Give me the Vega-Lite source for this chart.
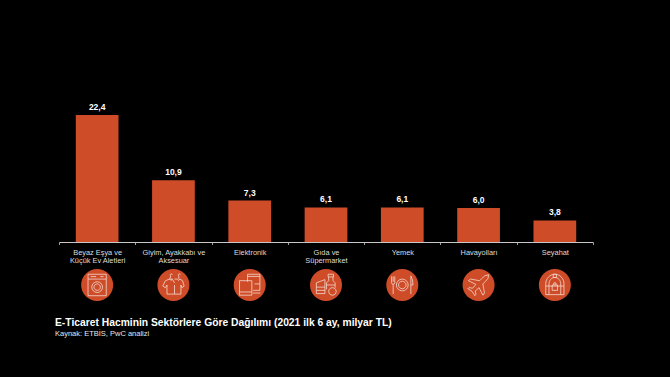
{
  "$schema": "https://vega.github.io/schema/vega-lite/v6.json",
  "width": 534,
  "height": 142,
  "autosize": {"type": "none"},
  "padding": {"left": 59, "top": 100, "right": 77, "bottom": 135},
  "background": "#000000",
  "config": {
    "view": {"stroke": null},
    "font": "Liberation Sans",
    "locale": {"number": {"decimal": ",", "thousands": ".", "grouping": [3], "currency": ["", " TL"]}}
  },
  "title": {
    "text": "E-Ticaret Hacminin Sektörlere Göre Dağılımı (2021 ilk 6 ay, milyar TL)",
    "subtitle": "Kaynak: ETBİS, PwC analizi",
    "orient": "bottom",
    "anchor": "start",
    "frame": "group",
    "offset": 17,
    "dx": -4,
    "font": "Liberation Sans",
    "fontSize": 10.3,
    "fontWeight": "bold",
    "color": "#ffffff",
    "subtitleFont": "Liberation Sans",
    "subtitleFontSize": 7.5,
    "subtitleColor": "#e6e6e6",
    "subtitlePadding": 1.5
  },
  "data": {
    "values": [
      {"sector": "Beyaz Eşya ve\nKüçük Ev Aletleri", "value": 22.4},
      {"sector": "Giyim, Ayakkabı ve\nAksesuar", "value": 10.9},
      {"sector": "Elektronik", "value": 7.3},
      {"sector": "Gıda ve\nSüpermarket", "value": 6.1},
      {"sector": "Yemek", "value": 6.1},
      {"sector": "Havayolları", "value": 6.0},
      {"sector": "Seyahat", "value": 3.8}
    ]
  },
  "encoding": {
    "x": {
      "field": "sector",
      "type": "nominal",
      "sort": null,
      "scale": {"paddingInner": 0, "paddingOuter": 0},
      "axis": {
        "title": null,
        "labelAngle": 0,
        "labelExpr": "split(datum.label, '\\n')",
        "labelFont": "Liberation Sans",
        "labelFontSize": 7.4,
        "labelLineHeight": 8.4,
        "labelColor": "#dddddd",
        "labelPadding": 4,
        "labelLimit": 120,
        "labelBaseline": "top",
        "tickBand": "extent",
        "tickColor": "#c8c8c8",
        "tickSize": 2.5,
        "tickWidth": 0.8,
        "domainColor": "#c8c8c8",
        "domainWidth": 1
      }
    }
  },
  "layer": [
    {
      "mark": {"type": "bar", "width": {"band": 0.56}, "color": "#cf4c29"},
      "encoding": {
        "y": {
          "field": "value",
          "type": "quantitative",
          "scale": {"domain": [0, 25.04], "nice": false},
          "axis": null
        }
      }
    },
    {
      "mark": {"type": "text", "baseline": "bottom", "dy": -3, "fontSize": 8.5, "fontWeight": "bold", "color": "#ffffff"},
      "encoding": {
        "y": {"field": "value", "type": "quantitative"},
        "text": {"field": "value", "type": "quantitative", "format": ".1f"}
      }
    },
    {
      "mark": {"type": "point", "shape": "circle", "filled": true, "size": 1024, "color": "#cf4c29", "opacity": 1},
      "encoding": {"y": {"datum": -7.58}}
    },
    {
      "mark": {"type": "point", "filled": false, "size": 460, "color": "#f4d9cf", "strokeWidth": 0.8, "opacity": 1},
      "encoding": {
        "y": {"datum": -7.58},
        "shape": {
          "field": "sector",
          "type": "nominal",
          "legend": null,
          "sort": null,
          "scale": {
            "domain": [
              "Beyaz Eşya ve\nKüçük Ev Aletleri",
              "Giyim, Ayakkabı ve\nAksesuar",
              "Elektronik",
              "Gıda ve\nSüpermarket",
              "Yemek",
              "Havayolları",
              "Seyahat"
            ],
            "range": [
              "M-0.85,-1 H0.85 V1 H-0.85 Z M-0.85,-0.55 H0.85 M-0.6,-0.78 H-0.1 M0.3,-0.78 H0.6 M0.5,0.2 A0.5,0.5 0 1 1 -0.5,0.2 A0.5,0.5 0 1 1 0.5,0.2 Z M0.3,0.2 A0.3,0.3 0 1 1 -0.3,0.2 A0.3,0.3 0 1 1 0.3,0.2 Z",
              "M-0.35,-0.55 L-0.75,-0.4 L-1,0.1 L-0.75,0.25 L-0.6,0 V0.85 H0.1 V0 M0.1,-0.2 L-0.1,-0.55 H-0.35 Q-0.25,-0.3 -0.1,-0.55 M-0.35,-0.55 L-0.25,-0.85 A0.1,0.1 0 1 1 -0.1,-0.95 M0.1,-0.55 L0.35,-0.55 Q0.5,-0.3 0.6,-0.55 L0.85,-0.4 L1,0.1 L0.8,0.25 L0.7,0 V0.85 H0.1 M0.5,-0.55 L0.5,-0.85 A0.1,0.1 0 1 1 0.65,-0.95",
              "M-0.2,-1 H0.95 V0.5 H0.3 M-0.2,-1 V-0.3 M-0.2,-0.8 H0.95 M-0.95,-0.4 H0.2 V0.95 H-0.95 Z M-0.95,0.65 H0.2 M0.3,0.75 H1 M0.45,-0.1 H0.95",
              "M-0.9,-0.2 L-0.1,-0.5 V0.8 H-0.9 Z M-0.9,0.2 H-0.1 M-0.9,0.5 H-0.1 M0.2,-1 H0.7 V-0.75 H0.2 Z M0.25,-0.75 V-0.4 L0.05,-0.2 V0.4 M0.65,-0.75 V-0.4 L0.85,-0.2 V0.25 M0.05,0 H0.85 M0.95,0.6 A0.35,0.35 0 1 1 0.25,0.6 A0.35,0.35 0 1 1 0.95,0.6 Z",
              "M0.55,0 A0.55,0.55 0 1 1 -0.55,0 A0.55,0.55 0 1 1 0.55,0 Z M0.35,0 A0.35,0.35 0 1 1 -0.35,0 A0.35,0.35 0 1 1 0.35,0 Z M-1,-0.8 V-0.25 Q-1,-0.05 -0.85,-0.05 V0.85 M-0.7,-0.8 V-0.25 Q-0.7,-0.05 -0.85,-0.05 M-0.85,-0.8 V-0.3 M0.8,-0.85 Q1,-0.5 1,0 H0.8 V0.85 M0.8,-0.85 V0",
              "M0.95,-0.95 Q0.55,-0.95 0.3,-0.6 L0.1,-0.4 L-0.75,-0.55 L-0.95,-0.4 L-0.25,-0.05 L-0.55,0.3 L-0.9,0.25 L-1,0.35 L-0.6,0.6 L-0.35,1 L-0.25,0.9 L-0.3,0.55 L0.05,0.25 L0.4,0.95 L0.55,0.75 L0.4,-0.1 L0.6,-0.3 Q0.95,-0.55 0.95,-0.95 Z",
              "M-0.85,0.9 V-0.1 A0.85,0.9 0 0 1 0.85,-0.1 V0.9 Z M-0.55,0.9 V-0.1 A0.55,0.6 0 0 1 0.55,-0.1 V0.9 M-0.85,0.1 H0.85 M-0.25,0 H0.25 V0.5 H-0.25 Z M-0.1,0 V-0.2 H0.1 V0 M-0.15,-0.7 H0.15 V-1 H-0.15 Z"
            ]
          }
        }
      }
    }
  ]
}
